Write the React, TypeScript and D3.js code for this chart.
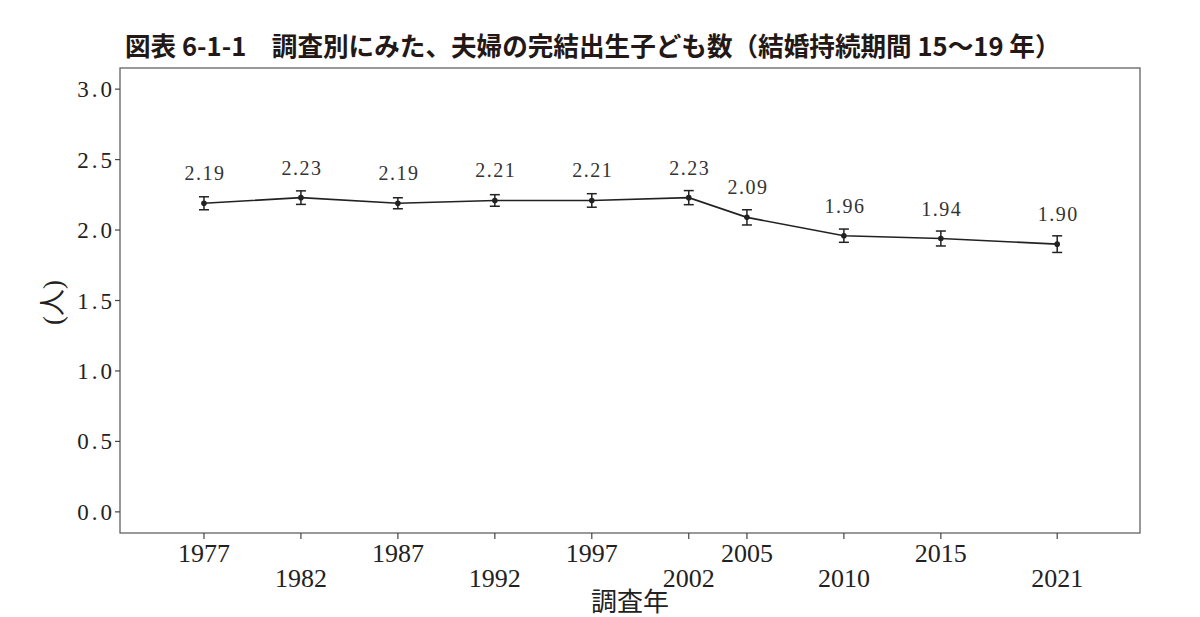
import * as d3 from 'd3';
import React from 'react';

const years = [1977, 1982, 1987, 1992, 1997, 2002, 2005, 2010, 2015, 2021];
const values = [2.19, 2.23, 2.19, 2.21, 2.21, 2.23, 2.09, 1.96, 1.94, 1.9];
const errors = [0.046, 0.048, 0.039, 0.041, 0.048, 0.05, 0.054, 0.047, 0.053, 0.059];
const yTicks = [0, 0.5, 1, 1.5, 2, 2.5, 3];
const title = '図表 6-1-1　調査別にみた、夫婦の完結出生子ども数（結婚持続期間 15～19 年）';
const xTitle = '調査年';
const yTitle = '(人)';

const W = 1200;
const H = 617;
const left = 120;
const right = 1140;
const top = 68;
const bottom = 533;

const serif = '"Liberation Serif", "DejaVu Serif", "Noto Sans CJK JP", serif';
const ink = '#222';

export default function App() {
  const x = d3.scaleLinear().domain([1972.67, 2025.27]).range([left, right]);
  const y = d3.scaleLinear().domain([-0.15, 3.15]).range([bottom, top]);
  const fmtY = d3.format('.1f');
  const fmtV = d3.format('.2f');

  const pts = years.map((yr, i) => ({ yr, v: values[i], e: errors[i] }));
  const line = d3
    .line<{ yr: number; v: number }>()
    .x((d) => x(d.yr))
    .y((d) => y(d.v));

  return (
    <div style={{ position: 'absolute', left: 0, top: 0 }}>
      <svg width={W} height={H} style={{ display: 'block', background: '#fff' }}>
        <text
          x={125}
          y={56}
          fontFamily='"Noto Sans CJK JP", sans-serif'
          fontWeight="bold"
          fontSize={25.6}
          fill="#231815"
        >
          {title}
        </text>

        {/* panel */}
        <rect x={left} y={top} width={right - left} height={bottom - top} fill="none" stroke="#555" strokeWidth={1.2} />

        {/* y axis */}
        {yTicks.map((t) => (
          <g key={t}>
            <line x1={left - 5} x2={left} y1={y(t)} y2={y(t)} stroke="#444" strokeWidth={1.2} />
            <text
              x={left - 5}
              y={y(t)}
              dy="0.35em"
              textAnchor="end"
              fontFamily={serif}
              fontSize={23}
              letterSpacing={3}
              fill={ink}
            >
              {fmtY(t)}
            </text>
          </g>
        ))}
        <text
          transform={`translate(62,${(top + bottom) / 2 + 2}) rotate(-90)`}
          textAnchor="middle"
          fontFamily={serif}
          fontSize={27}
          fill={ink}
        >
          {yTitle}
        </text>

        {/* x axis */}
        {years.map((yr, i) => (
          <g key={yr}>
            <line x1={x(yr)} x2={x(yr)} y1={bottom} y2={bottom + 6} stroke="#444" strokeWidth={1.2} />
            <text
              x={x(yr)}
              y={i % 2 === 0 ? 562 : 587}
              textAnchor="middle"
              fontFamily={serif}
              fontSize={26}
              fill={ink}
            >
              {yr}
            </text>
          </g>
        ))}
        <text x={(left + right) / 2} y={611} textAnchor="middle" fontFamily={serif} fontSize={26} fill={ink}>
          {xTitle}
        </text>

        {/* series */}
        <path d={line(pts) || ''} fill="none" stroke={ink} strokeWidth={1.6} />
        {pts.map((d) => (
          <g key={d.yr}>
            <line x1={x(d.yr)} x2={x(d.yr)} y1={y(d.v + d.e)} y2={y(d.v - d.e)} stroke={ink} strokeWidth={1.5} />
            <line x1={x(d.yr) - 5} x2={x(d.yr) + 5} y1={y(d.v + d.e)} y2={y(d.v + d.e)} stroke={ink} strokeWidth={1.5} />
            <line x1={x(d.yr) - 5} x2={x(d.yr) + 5} y1={y(d.v - d.e)} y2={y(d.v - d.e)} stroke={ink} strokeWidth={1.5} />
            <circle cx={x(d.yr)} cy={y(d.v)} r={2.8} fill={ink} />
            <text
              x={x(d.yr) + 1}
              y={y(d.v) - 23}
              textAnchor="middle"
              fontFamily={serif}
              fontSize={20}
              letterSpacing={1.5}
              fill="#333"
            >
              {fmtV(d.v)}
            </text>
          </g>
        ))}
      </svg>
    </div>
  );
}
